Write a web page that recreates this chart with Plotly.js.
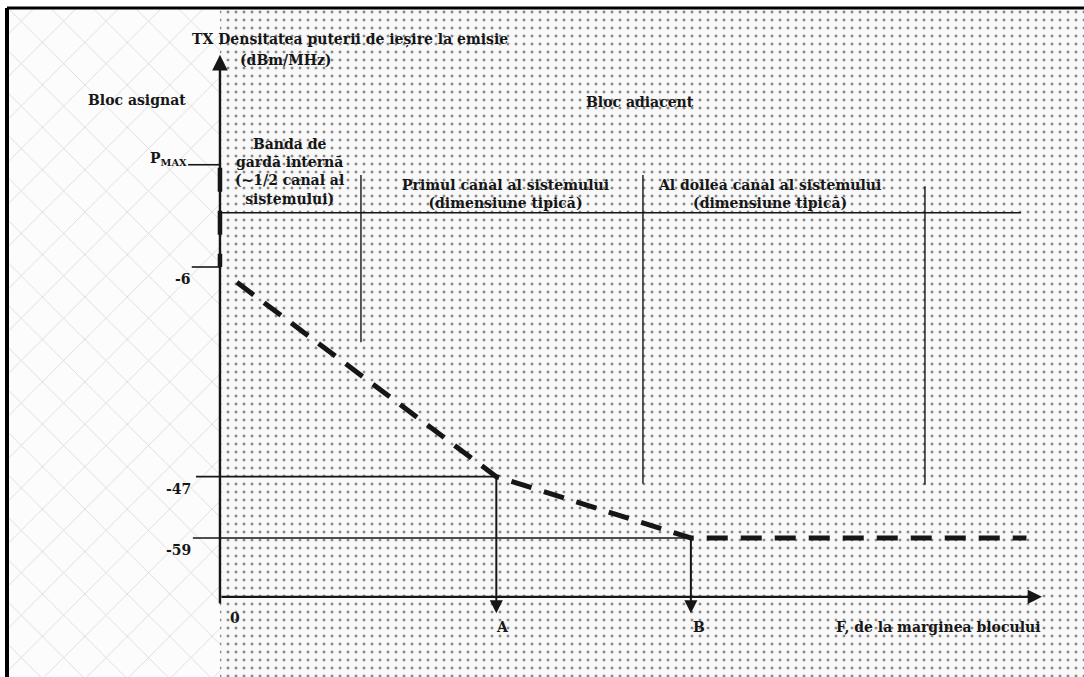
<!DOCTYPE html>
<html>
<head>
<meta charset="utf-8">
<script src="https://cdn.plot.ly/plotly-3.0.1.min.js"></script>
<style>html,body{margin:0;padding:0;background:#fff;}#chart{width:1084px;height:677px;}</style>
</head>
<body>
<div id="chart"></div>
<script>
// ---- data (frequency offset in system-channel units, level in dBm/MHz) ----
const maskX = [0.06, 0.98, 1.67, 2.86];
const maskY = [-9, -47, -59, -59];
const levelValues = [14, -6, -47, -59];
const levelLabels = ['P<sub>MAX</sub>', '-6', '-47', '-59'];
const pointNames = ['A', 'B'];
const pointX = [0.98, 1.67];
const pointY = [-47, -59];
const channelEdges = [0.5, 1.5, 2.5];
const channelEdgeTop = [12, 12, 9.8];
const channelEdgeBottom = [-20.7, -48.4, -48.6];
const channelRowLevel = 4.6;
const channelRowEnd = 2.84;
const axisFloor = -70.5;
const axisTop = 35.5;
const axisEnd = 2.915;
const regionLabels = ['Bloc asignat', 'Bloc adiacent'];
const bandLabels = [
  'Banda de<br>gardă internă<br>(~1/2 canal al<br>sistemului)',
  'Primul canal al sistemului<br>(dimensiune tipică)',
  'Al doilea canal al sistemului<br>(dimensiune tipică)'
];
const yTitle = ['TX Densitatea puterii de ieșire la emisie', '(dBm/MHz)'];
const xTitle = 'F, de la marginea blocului';

// ---- layout helpers ----
const XR = [-0.780, 3.064];
const YR = [-86.19, 46.22];
const TOPV = 44.4;
const FONT = 'DejaVu Serif, Liberation Serif, serif';
const INK = '#161616';
const FS = 14;
const traces = [];

// background regions
traces.push({x:[-0.755, 0, 0, -0.755, -0.755], y:[YR[0], YR[0], TOPV, TOPV, YR[0]],
  mode:'lines', line:{width:0}, fill:'toself', fillcolor:'#fcfcfc',
  fillpattern:{shape:'x', fgcolor:'#d6d6d6', bgcolor:'#fcfcfc', size:30, solidity:0.05},
  hoverinfo:'skip', showlegend:false});
traces.push({x:[0, XR[1], XR[1], 0, 0], y:[YR[0], YR[0], TOPV, TOPV, YR[0]],
  mode:'lines', line:{width:0}, fill:'toself', fillcolor:'#f7f7f7',
  fillpattern:{shape:'.', fgcolor:'#888888', bgcolor:'#f8f8f8', size:8, solidity:0.11},
  hoverinfo:'skip', showlegend:false});

function line(xs, ys, w, dash) {
  traces.push({x:xs, y:ys, mode:'lines', line:{color:INK, width:w, dash:dash||'solid'},
    hoverinfo:'skip', showlegend:false, cliponaxis:false});
}

// level ticks / reference lines
const tickStart = [-0.113, -0.1, -0.085, -0.096];
levelValues.forEach((v, i) => {
  const xEnd = i < 2 ? 0 : pointX[i - 2];
  line([tickStart[i], xEnd], [v, v], 1.6);
});
// channel row line
line([0, channelRowEnd], [channelRowLevel, channelRowLevel], 1.4);
// channel edges
channelEdges.forEach((c, i) => line([c, c], [channelEdgeTop[i], channelEdgeBottom[i]], 1.4));
// assigned block thick segment on axis
line([0, 0], [13.4, levelValues[1]], 4.5, '24px,19px');
// mask
line(maskX, maskY, 5, '21px,13px');

const annotations = [];
const txt = (size) => ({family:FONT, size:size || FS, color:INK, weight:'bold'});
// axes arrows
annotations.push({x:0, y:axisTop, ax:0, ay:-72.1, xref:'x', yref:'y', axref:'x', ayref:'y',
  text:'', showarrow:true, arrowhead:2, arrowsize:1.3, arrowwidth:2.4, arrowcolor:INK});
annotations.push({x:axisEnd, y:axisFloor, ax:0, ay:axisFloor, xref:'x', yref:'y', axref:'x', ayref:'y',
  text:'', showarrow:true, arrowhead:2, arrowsize:1.3, arrowwidth:2.2, arrowcolor:INK});
// A / B drop arrows
pointX.forEach((px, i) => {
  annotations.push({x:px, y:-73.7, ax:px, ay:pointY[i], xref:'x', yref:'y', axref:'x', ayref:'y',
    text:'', showarrow:true, arrowhead:2, arrowsize:1.3, arrowwidth:2, arrowcolor:INK});
  annotations.push({x:px, y:-76.4, xref:'x', yref:'y', text:pointNames[i], showarrow:false,
    xshift: i === 0 ? 6 : 8, font:txt()});
});
// level labels
levelValues.forEach((v, i) => {
  annotations.push({x:0, y:v, xref:'x', yref:'y', text:levelLabels[i], showarrow:false,
    xanchor:'right', xshift: i === 0 ? -31 : -27, yshift: i === 0 ? 6 : -12, font:txt()});
});
// origin label
annotations.push({x:0, y:axisFloor, xref:'x', yref:'y', text:'0', showarrow:false,
  xshift:15, yshift:-21, font:txt()});
// titles
annotations.push({x:-0.106, y:38.4, xref:'x', yref:'y', text:yTitle[0], showarrow:false, xanchor:'left',
  font:txt(14)});
annotations.push({x:0.234, y:34.5, xref:'x', yref:'y', text:yTitle[1], showarrow:false, font:txt()});
annotations.push({x:axisEnd, y:-76.4, xref:'x', yref:'y', text:xTitle, showarrow:false, xanchor:'right',
  font:txt()});
// region labels
annotations.push({x:-0.294, y:26.7, xref:'x', yref:'y', text:regionLabels[0], showarrow:false, font:txt()});
annotations.push({x:1.489, y:26.3, xref:'x', yref:'y', text:regionLabels[1], showarrow:false, font:txt()});
// band labels
annotations.push({x:0.248, y:12.6, xref:'x', yref:'y', text:bandLabels[0], showarrow:false, font:txt()});
annotations.push({x:1.011, y:8.3, xref:'x', yref:'y', text:bandLabels[1], showarrow:false, font:txt()});
annotations.push({x:1.95, y:8.3, xref:'x', yref:'y', text:bandLabels[2], showarrow:false, font:txt()});

const layout = {
  width:1084, height:677, margin:{l:0, r:0, t:0, b:0},
  paper_bgcolor:'#fff', plot_bgcolor:'#fff',
  xaxis:{range:XR, visible:false, fixedrange:true},
  yaxis:{range:YR, visible:false, fixedrange:true},
  showlegend:false, annotations:annotations,
  shapes:[
    {type:'line', xref:'paper', yref:'paper', x0:7/1084, x1:1, y0:1-8/677, y1:1-8/677, line:{color:'#000', width:3}},
    {type:'line', xref:'paper', yref:'paper', x0:7/1084, x1:7/1084, y0:0, y1:1-8/677, line:{color:'#000', width:4}}
  ]
};
Plotly.newPlot('chart', traces, layout, {staticPlot:true, displayModeBar:false});
</script>
</body>
</html>
